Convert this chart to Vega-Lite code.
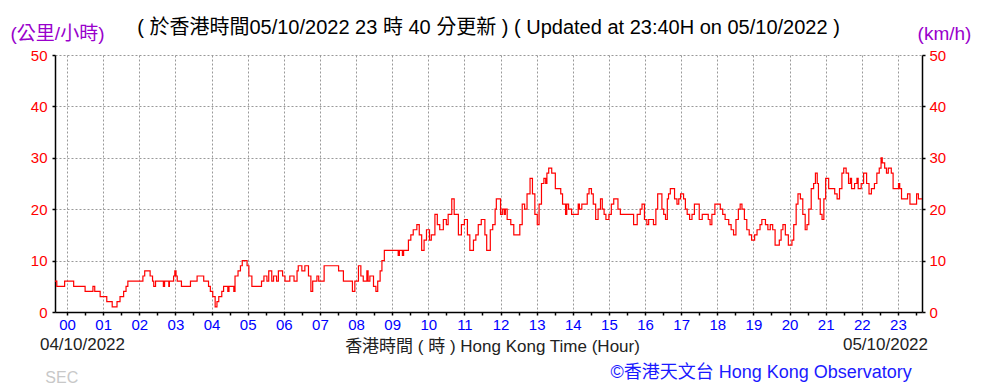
{
  "$schema": "https://vega.github.io/schema/vega-lite/v6.json",
  "width": 867,
  "height": 257,
  "autosize": {"type": "none"},
  "padding": {"left": 55, "top": 55, "right": 61, "bottom": 76},
  "background": "white",
  "config": {
    "view": {"stroke": null},
    "font": "Liberation Sans, Noto Sans CJK TC, sans-serif"
  },
  "title": {
    "text": "( 於香港時間05/10/2022 23 時 40 分更新 ) ( Updated at 23:40H on 05/10/2022 )",
    "fontSize": 20,
    "fontWeight": "normal",
    "color": "#000000",
    "anchor": "middle",
    "frame": "group",
    "offset": -14
  },
  "datasets": {
    "wind": [
      {"time": "2022-10-04T23:40", "speed": 6},
      {"time": "2022-10-04T23:43", "speed": 5},
      {"time": "2022-10-04T23:56", "speed": 6},
      {"time": "2022-10-05T00:11", "speed": 5},
      {"time": "2022-10-05T00:30", "speed": 4},
      {"time": "2022-10-05T00:43", "speed": 5},
      {"time": "2022-10-05T00:46", "speed": 4},
      {"time": "2022-10-05T00:55", "speed": 3},
      {"time": "2022-10-05T01:06", "speed": 2},
      {"time": "2022-10-05T01:15", "speed": 1},
      {"time": "2022-10-05T01:23", "speed": 2},
      {"time": "2022-10-05T01:28", "speed": 3},
      {"time": "2022-10-05T01:34", "speed": 4},
      {"time": "2022-10-05T01:38", "speed": 5},
      {"time": "2022-10-05T01:41", "speed": 6},
      {"time": "2022-10-05T02:06", "speed": 7},
      {"time": "2022-10-05T02:09", "speed": 8},
      {"time": "2022-10-05T02:18", "speed": 7},
      {"time": "2022-10-05T02:22", "speed": 6},
      {"time": "2022-10-05T02:24", "speed": 5},
      {"time": "2022-10-05T02:27", "speed": 6},
      {"time": "2022-10-05T02:40", "speed": 5},
      {"time": "2022-10-05T02:42", "speed": 6},
      {"time": "2022-10-05T02:49", "speed": 5},
      {"time": "2022-10-05T02:50", "speed": 6},
      {"time": "2022-10-05T02:57", "speed": 7},
      {"time": "2022-10-05T02:59", "speed": 8},
      {"time": "2022-10-05T03:01", "speed": 7},
      {"time": "2022-10-05T03:03", "speed": 6},
      {"time": "2022-10-05T03:10", "speed": 5},
      {"time": "2022-10-05T03:25", "speed": 6},
      {"time": "2022-10-05T03:36", "speed": 7},
      {"time": "2022-10-05T03:47", "speed": 6},
      {"time": "2022-10-05T03:55", "speed": 5},
      {"time": "2022-10-05T03:58", "speed": 4},
      {"time": "2022-10-05T04:02", "speed": 3},
      {"time": "2022-10-05T04:06", "speed": 1},
      {"time": "2022-10-05T04:09", "speed": 2},
      {"time": "2022-10-05T04:12", "speed": 3},
      {"time": "2022-10-05T04:17", "speed": 4},
      {"time": "2022-10-05T04:20", "speed": 5},
      {"time": "2022-10-05T04:27", "speed": 4},
      {"time": "2022-10-05T04:29", "speed": 5},
      {"time": "2022-10-05T04:37", "speed": 4},
      {"time": "2022-10-05T04:39", "speed": 7},
      {"time": "2022-10-05T04:44", "speed": 8},
      {"time": "2022-10-05T04:48", "speed": 9},
      {"time": "2022-10-05T04:51", "speed": 10},
      {"time": "2022-10-05T04:59", "speed": 9},
      {"time": "2022-10-05T05:02", "speed": 7},
      {"time": "2022-10-05T05:07", "speed": 5},
      {"time": "2022-10-05T05:23", "speed": 6},
      {"time": "2022-10-05T05:27", "speed": 7},
      {"time": "2022-10-05T05:32", "speed": 6},
      {"time": "2022-10-05T05:35", "speed": 8},
      {"time": "2022-10-05T05:40", "speed": 6},
      {"time": "2022-10-05T05:43", "speed": 7},
      {"time": "2022-10-05T05:48", "speed": 6},
      {"time": "2022-10-05T05:51", "speed": 8},
      {"time": "2022-10-05T05:58", "speed": 7},
      {"time": "2022-10-05T06:02", "speed": 6},
      {"time": "2022-10-05T06:10", "speed": 7},
      {"time": "2022-10-05T06:17", "speed": 6},
      {"time": "2022-10-05T06:22", "speed": 8},
      {"time": "2022-10-05T06:24", "speed": 9},
      {"time": "2022-10-05T06:30", "speed": 8},
      {"time": "2022-10-05T06:35", "speed": 9},
      {"time": "2022-10-05T06:41", "speed": 7},
      {"time": "2022-10-05T06:45", "speed": 4},
      {"time": "2022-10-05T06:48", "speed": 6},
      {"time": "2022-10-05T06:55", "speed": 7},
      {"time": "2022-10-05T06:58", "speed": 6},
      {"time": "2022-10-05T07:07", "speed": 9},
      {"time": "2022-10-05T07:31", "speed": 8},
      {"time": "2022-10-05T07:39", "speed": 6},
      {"time": "2022-10-05T07:54", "speed": 4},
      {"time": "2022-10-05T07:58", "speed": 6},
      {"time": "2022-10-05T08:04", "speed": 9},
      {"time": "2022-10-05T08:08", "speed": 7},
      {"time": "2022-10-05T08:12", "speed": 6},
      {"time": "2022-10-05T08:18", "speed": 8},
      {"time": "2022-10-05T08:20", "speed": 6},
      {"time": "2022-10-05T08:23", "speed": 7},
      {"time": "2022-10-05T08:29", "speed": 5},
      {"time": "2022-10-05T08:33", "speed": 4},
      {"time": "2022-10-05T08:36", "speed": 6},
      {"time": "2022-10-05T08:40", "speed": 8},
      {"time": "2022-10-05T08:43", "speed": 10},
      {"time": "2022-10-05T08:47", "speed": 12},
      {"time": "2022-10-05T09:10", "speed": 11},
      {"time": "2022-10-05T09:12", "speed": 12},
      {"time": "2022-10-05T09:17", "speed": 11},
      {"time": "2022-10-05T09:19", "speed": 12},
      {"time": "2022-10-05T09:27", "speed": 14},
      {"time": "2022-10-05T09:31", "speed": 15},
      {"time": "2022-10-05T09:35", "speed": 16},
      {"time": "2022-10-05T09:41", "speed": 17},
      {"time": "2022-10-05T09:45", "speed": 15},
      {"time": "2022-10-05T09:49", "speed": 12},
      {"time": "2022-10-05T09:53", "speed": 14},
      {"time": "2022-10-05T09:57", "speed": 16},
      {"time": "2022-10-05T10:02", "speed": 14},
      {"time": "2022-10-05T10:05", "speed": 15},
      {"time": "2022-10-05T10:11", "speed": 19},
      {"time": "2022-10-05T10:15", "speed": 17},
      {"time": "2022-10-05T10:19", "speed": 16},
      {"time": "2022-10-05T10:25", "speed": 18},
      {"time": "2022-10-05T10:30", "speed": 17},
      {"time": "2022-10-05T10:33", "speed": 19},
      {"time": "2022-10-05T10:39", "speed": 22},
      {"time": "2022-10-05T10:43", "speed": 19},
      {"time": "2022-10-05T10:50", "speed": 15},
      {"time": "2022-10-05T10:55", "speed": 17},
      {"time": "2022-10-05T11:00", "speed": 18},
      {"time": "2022-10-05T11:05", "speed": 15},
      {"time": "2022-10-05T11:09", "speed": 12},
      {"time": "2022-10-05T11:15", "speed": 14},
      {"time": "2022-10-05T11:19", "speed": 15},
      {"time": "2022-10-05T11:23", "speed": 17},
      {"time": "2022-10-05T11:28", "speed": 18},
      {"time": "2022-10-05T11:34", "speed": 15},
      {"time": "2022-10-05T11:37", "speed": 12},
      {"time": "2022-10-05T11:43", "speed": 16},
      {"time": "2022-10-05T11:47", "speed": 17},
      {"time": "2022-10-05T11:51", "speed": 20},
      {"time": "2022-10-05T11:53", "speed": 22},
      {"time": "2022-10-05T12:00", "speed": 19},
      {"time": "2022-10-05T12:03", "speed": 20},
      {"time": "2022-10-05T12:06", "speed": 19},
      {"time": "2022-10-05T12:08", "speed": 20},
      {"time": "2022-10-05T12:11", "speed": 18},
      {"time": "2022-10-05T12:17", "speed": 17},
      {"time": "2022-10-05T12:22", "speed": 15},
      {"time": "2022-10-05T12:32", "speed": 17},
      {"time": "2022-10-05T12:36", "speed": 21},
      {"time": "2022-10-05T12:40", "speed": 20},
      {"time": "2022-10-05T12:44", "speed": 23},
      {"time": "2022-10-05T12:49", "speed": 26},
      {"time": "2022-10-05T12:53", "speed": 23},
      {"time": "2022-10-05T12:57", "speed": 19},
      {"time": "2022-10-05T13:01", "speed": 17},
      {"time": "2022-10-05T13:04", "speed": 21},
      {"time": "2022-10-05T13:08", "speed": 25},
      {"time": "2022-10-05T13:12", "speed": 26},
      {"time": "2022-10-05T13:15", "speed": 25},
      {"time": "2022-10-05T13:17", "speed": 27},
      {"time": "2022-10-05T13:20", "speed": 28},
      {"time": "2022-10-05T13:25", "speed": 27},
      {"time": "2022-10-05T13:31", "speed": 24},
      {"time": "2022-10-05T13:40", "speed": 23},
      {"time": "2022-10-05T13:43", "speed": 21},
      {"time": "2022-10-05T13:48", "speed": 19},
      {"time": "2022-10-05T13:50", "speed": 21},
      {"time": "2022-10-05T13:53", "speed": 20},
      {"time": "2022-10-05T13:58", "speed": 19},
      {"time": "2022-10-05T14:09", "speed": 21},
      {"time": "2022-10-05T14:11", "speed": 20},
      {"time": "2022-10-05T14:15", "speed": 21},
      {"time": "2022-10-05T14:24", "speed": 23},
      {"time": "2022-10-05T14:27", "speed": 24},
      {"time": "2022-10-05T14:31", "speed": 23},
      {"time": "2022-10-05T14:34", "speed": 21},
      {"time": "2022-10-05T14:38", "speed": 18},
      {"time": "2022-10-05T14:42", "speed": 20},
      {"time": "2022-10-05T14:46", "speed": 22},
      {"time": "2022-10-05T14:49", "speed": 20},
      {"time": "2022-10-05T14:52", "speed": 19},
      {"time": "2022-10-05T14:55", "speed": 18},
      {"time": "2022-10-05T15:00", "speed": 19},
      {"time": "2022-10-05T15:04", "speed": 21},
      {"time": "2022-10-05T15:08", "speed": 22},
      {"time": "2022-10-05T15:15", "speed": 20},
      {"time": "2022-10-05T15:19", "speed": 19},
      {"time": "2022-10-05T15:41", "speed": 17},
      {"time": "2022-10-05T15:47", "speed": 19},
      {"time": "2022-10-05T15:52", "speed": 20},
      {"time": "2022-10-05T15:55", "speed": 21},
      {"time": "2022-10-05T15:59", "speed": 18},
      {"time": "2022-10-05T16:03", "speed": 17},
      {"time": "2022-10-05T16:06", "speed": 18},
      {"time": "2022-10-05T16:14", "speed": 17},
      {"time": "2022-10-05T16:18", "speed": 20},
      {"time": "2022-10-05T16:21", "speed": 23},
      {"time": "2022-10-05T16:28", "speed": 20},
      {"time": "2022-10-05T16:31", "speed": 19},
      {"time": "2022-10-05T16:34", "speed": 18},
      {"time": "2022-10-05T16:37", "speed": 22},
      {"time": "2022-10-05T16:39", "speed": 23},
      {"time": "2022-10-05T16:42", "speed": 24},
      {"time": "2022-10-05T16:49", "speed": 22},
      {"time": "2022-10-05T16:53", "speed": 21},
      {"time": "2022-10-05T16:56", "speed": 22},
      {"time": "2022-10-05T16:59", "speed": 23},
      {"time": "2022-10-05T17:04", "speed": 22},
      {"time": "2022-10-05T17:07", "speed": 20},
      {"time": "2022-10-05T17:10", "speed": 19},
      {"time": "2022-10-05T17:14", "speed": 18},
      {"time": "2022-10-05T17:18", "speed": 19},
      {"time": "2022-10-05T17:22", "speed": 21},
      {"time": "2022-10-05T17:30", "speed": 18},
      {"time": "2022-10-05T17:35", "speed": 19},
      {"time": "2022-10-05T17:45", "speed": 18},
      {"time": "2022-10-05T17:48", "speed": 17},
      {"time": "2022-10-05T17:51", "speed": 19},
      {"time": "2022-10-05T17:56", "speed": 21},
      {"time": "2022-10-05T18:05", "speed": 20},
      {"time": "2022-10-05T18:09", "speed": 19},
      {"time": "2022-10-05T18:13", "speed": 18},
      {"time": "2022-10-05T18:19", "speed": 17},
      {"time": "2022-10-05T18:23", "speed": 16},
      {"time": "2022-10-05T18:27", "speed": 15},
      {"time": "2022-10-05T18:31", "speed": 18},
      {"time": "2022-10-05T18:35", "speed": 20},
      {"time": "2022-10-05T18:38", "speed": 21},
      {"time": "2022-10-05T18:41", "speed": 20},
      {"time": "2022-10-05T18:45", "speed": 18},
      {"time": "2022-10-05T18:49", "speed": 16},
      {"time": "2022-10-05T18:53", "speed": 15},
      {"time": "2022-10-05T18:57", "speed": 14},
      {"time": "2022-10-05T19:02", "speed": 15},
      {"time": "2022-10-05T19:06", "speed": 16},
      {"time": "2022-10-05T19:11", "speed": 17},
      {"time": "2022-10-05T19:14", "speed": 18},
      {"time": "2022-10-05T19:20", "speed": 17},
      {"time": "2022-10-05T19:24", "speed": 16},
      {"time": "2022-10-05T19:28", "speed": 17},
      {"time": "2022-10-05T19:32", "speed": 16},
      {"time": "2022-10-05T19:36", "speed": 13},
      {"time": "2022-10-05T19:43", "speed": 14},
      {"time": "2022-10-05T19:46", "speed": 16},
      {"time": "2022-10-05T19:49", "speed": 17},
      {"time": "2022-10-05T19:53", "speed": 15},
      {"time": "2022-10-05T19:58", "speed": 13},
      {"time": "2022-10-05T20:04", "speed": 14},
      {"time": "2022-10-05T20:07", "speed": 17},
      {"time": "2022-10-05T20:11", "speed": 21},
      {"time": "2022-10-05T20:14", "speed": 23},
      {"time": "2022-10-05T20:18", "speed": 22},
      {"time": "2022-10-05T20:22", "speed": 19},
      {"time": "2022-10-05T20:26", "speed": 16},
      {"time": "2022-10-05T20:29", "speed": 17},
      {"time": "2022-10-05T20:32", "speed": 20},
      {"time": "2022-10-05T20:36", "speed": 24},
      {"time": "2022-10-05T20:40", "speed": 25},
      {"time": "2022-10-05T20:43", "speed": 27},
      {"time": "2022-10-05T20:46", "speed": 25},
      {"time": "2022-10-05T20:48", "speed": 22},
      {"time": "2022-10-05T20:51", "speed": 19},
      {"time": "2022-10-05T20:54", "speed": 18},
      {"time": "2022-10-05T20:57", "speed": 22},
      {"time": "2022-10-05T21:00", "speed": 26},
      {"time": "2022-10-05T21:05", "speed": 24},
      {"time": "2022-10-05T21:15", "speed": 23},
      {"time": "2022-10-05T21:19", "speed": 22},
      {"time": "2022-10-05T21:23", "speed": 24},
      {"time": "2022-10-05T21:27", "speed": 27},
      {"time": "2022-10-05T21:30", "speed": 28},
      {"time": "2022-10-05T21:34", "speed": 27},
      {"time": "2022-10-05T21:38", "speed": 25},
      {"time": "2022-10-05T21:41", "speed": 26},
      {"time": "2022-10-05T21:43", "speed": 24},
      {"time": "2022-10-05T21:48", "speed": 25},
      {"time": "2022-10-05T21:52", "speed": 26},
      {"time": "2022-10-05T21:54", "speed": 24},
      {"time": "2022-10-05T21:59", "speed": 25},
      {"time": "2022-10-05T22:03", "speed": 27},
      {"time": "2022-10-05T22:08", "speed": 25},
      {"time": "2022-10-05T22:12", "speed": 23},
      {"time": "2022-10-05T22:16", "speed": 24},
      {"time": "2022-10-05T22:21", "speed": 25},
      {"time": "2022-10-05T22:25", "speed": 27},
      {"time": "2022-10-05T22:29", "speed": 28},
      {"time": "2022-10-05T22:32", "speed": 30},
      {"time": "2022-10-05T22:34", "speed": 29},
      {"time": "2022-10-05T22:38", "speed": 28},
      {"time": "2022-10-05T22:41", "speed": 27},
      {"time": "2022-10-05T22:44", "speed": 28},
      {"time": "2022-10-05T22:49", "speed": 27},
      {"time": "2022-10-05T22:52", "speed": 24},
      {"time": "2022-10-05T23:01", "speed": 25},
      {"time": "2022-10-05T23:03", "speed": 24},
      {"time": "2022-10-05T23:06", "speed": 22},
      {"time": "2022-10-05T23:16", "speed": 23},
      {"time": "2022-10-05T23:20", "speed": 21},
      {"time": "2022-10-05T23:31", "speed": 23},
      {"time": "2022-10-05T23:34", "speed": 22},
      {"time": "2022-10-05T23:40", "speed": 22}
    ]
  },
  "resolve": {"scale": {"y": "independent"}},
  "layer": [
    {
      "layer": [
        {
          "data": {"name": "wind"},
          "mark": {"type": "line", "interpolate": "step-after", "color": "#ff0000", "strokeWidth": 1.2},
          "encoding": {
            "x": {
              "field": "time",
              "type": "temporal",
              "scale": {
                "domain": [
                  {"year": 2022, "month": 10, "date": 4, "hours": 23, "minutes": 40},
                  {"year": 2022, "month": 10, "date": 5, "hours": 23, "minutes": 40}
                ]
              },
              "axis": {
                "tickCount": 48,
                "labelExpr": "minutes(datum.value) == 0 ? timeFormat(datum.value, '%H') : ''",
                "labelOverlap": false,
                "labelFlush": false,
                "grid": true,
                "gridDash": [2, 2],
                "gridColor": "#999999",
                "gridOpacity": {"condition": {"test": "minutes(datum.value) != 0", "value": 0}, "value": 1},
                "domainColor": "#000000",
                "domainWidth": 1.5,
                "tickColor": "#000000",
                "tickSize": 3,
                "tickWidth": 1.5,
                "labelColor": "#0000ff",
                "labelFontSize": 15,
                "labelPadding": 2,
                "title": "香港時間 ( 時 ) Hong Kong Time (Hour)",
                "titleFontSize": 17,
                "titleFontWeight": "normal",
                "titleColor": "#222222",
                "titleX": 437,
                "titleY": 34,
                "titleAlign": "center",
                "titleBaseline": "middle"
              }
            },
            "y": {
              "field": "speed",
              "type": "quantitative",
              "scale": {"domain": [0, 50], "nice": false},
              "axis": {
                "values": [0, 10, 20, 30, 40, 50],
                "grid": true,
                "gridDash": [2, 2],
                "gridColor": "#999999",
                "domainColor": "#000000",
                "domainWidth": 1.5,
                "tickColor": "#000000",
                "tickSize": 3,
                "tickWidth": 1.5,
                "labelColor": "#ff0000",
                "labelFontSize": 15,
                "labelPadding": 5,
                "title": "(公里/小時)",
                "titleAngle": 0,
                "titleX": 2,
                "titleY": -22,
                "titleAlign": "center",
                "titleBaseline": "middle",
                "titleColor": "#9900cc",
                "titleFontSize": 19,
                "titleFontWeight": "normal"
              }
            }
          }
        },
        {
          "data": {"values": [{}]},
          "mark": {"type": "text", "align": "left", "baseline": "middle", "fontSize": 17, "color": "#222222"},
          "encoding": {
            "x": {"datum": {"year": 2022, "month": 10, "date": 4, "hours": 23, "minutes": 15}, "type": "temporal"},
            "y": {"datum": -6.4, "type": "quantitative"},
            "text": {"value": "04/10/2022"}
          }
        },
        {
          "data": {"values": [{}]},
          "mark": {"type": "text", "align": "right", "baseline": "middle", "fontSize": 17, "color": "#222222"},
          "encoding": {
            "x": {"datum": {"year": 2022, "month": 10, "date": 5, "hours": 23, "minutes": 50}, "type": "temporal"},
            "y": {"datum": -6.4, "type": "quantitative"},
            "text": {"value": "05/10/2022"}
          }
        },
        {
          "data": {"values": [{}]},
          "mark": {"type": "text", "align": "left", "baseline": "middle", "fontSize": 16, "color": "#c8c8c8"},
          "encoding": {
            "x": {"datum": {"year": 2022, "month": 10, "date": 4, "hours": 23, "minutes": 24}, "type": "temporal"},
            "y": {"datum": -12.8, "type": "quantitative"},
            "text": {"value": "SEC"}
          }
        },
        {
          "data": {"values": [{}]},
          "mark": {"type": "text", "align": "right", "baseline": "middle", "fontSize": 18, "color": "#1a1aff"},
          "encoding": {
            "x": {"datum": {"year": 2022, "month": 10, "date": 5, "hours": 23, "minutes": 23}, "type": "temporal"},
            "y": {"datum": -11.8, "type": "quantitative"},
            "text": {"value": "©香港天文台 Hong Kong Observatory"}
          }
        }
      ]
    },
    {
      "data": {"name": "wind"},
      "mark": {"type": "line", "interpolate": "step-after", "strokeOpacity": 0},
      "encoding": {
        "x": {"field": "time", "type": "temporal"},
        "y": {
          "field": "speed",
          "type": "quantitative",
          "scale": {"domain": [0, 50], "nice": false},
          "axis": {
            "orient": "right",
            "values": [0, 10, 20, 30, 40, 50],
            "grid": false,
            "domainColor": "#000000",
            "domainWidth": 1.5,
            "tickColor": "#000000",
            "tickSize": 3,
            "tickWidth": 1.5,
            "labelColor": "#ff0000",
            "labelFontSize": 15,
            "labelPadding": 4,
            "title": "(km/h)",
            "titleAngle": 0,
            "titleX": 22,
            "titleY": -22,
            "titleAlign": "center",
            "titleBaseline": "middle",
            "titleColor": "#9900cc",
            "titleFontSize": 19,
            "titleFontWeight": "normal"
          }
        }
      }
    }
  ]
}
